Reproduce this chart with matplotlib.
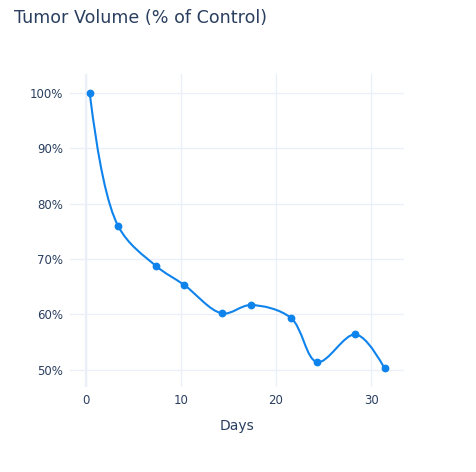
import matplotlib.pyplot as plt
from matplotlib.path import Path
from matplotlib.patches import PathPatch
from matplotlib.ticker import FuncFormatter
import numpy as np

# data
days = [0.42, 3.4, 7.36, 10.37, 14.33, 17.35, 21.55, 24.32, 28.35, 31.4]
volume_pct = [100.0, 76.0, 68.8, 65.3, 60.2, 61.7, 59.4, 51.4, 56.4, 50.3]
x_ticks = [0, 10, 20, 30]
y_ticks = [50, 60, 70, 80, 90, 100]

line_color = '#0f83ec'
text_color = '#2a3f5f'
grid_color = '#EBF0F8'

plt.rcParams['font.family'] = ['DejaVu Sans']


def make_tangent(prev, cur, nxt, smooth=1.0):
    # plotly-style catmull-rom tangent, in pixel space
    d1 = prev - cur
    d2 = nxt - cur
    d1a = np.hypot(*d1) ** 0.5
    d2a = np.hypot(*d2) ** 0.5
    num = (d2a * d2a * d1 - d1a * d1a * d2) * smooth
    den1 = 3 * d2a * (d1a + d2a)
    den2 = 3 * d1a * (d1a + d2a)
    return cur + num / den1, cur - num / den2


def spline_path(pts):
    tangents = [make_tangent(pts[i - 1], pts[i], pts[i + 1]) for i in range(1, len(pts) - 1)]
    verts = [pts[0]]
    codes = [Path.MOVETO]
    verts += [tangents[0][0], pts[1]]
    codes += [Path.CURVE3, Path.CURVE3]
    for i in range(2, len(pts) - 1):
        verts += [tangents[i - 2][1], tangents[i - 1][0], pts[i]]
        codes += [Path.CURVE4] * 3
    verts += [tangents[-1][1], pts[-1]]
    codes += [Path.CURVE3, Path.CURVE3]
    return np.array(verts), codes


fig = plt.figure(figsize=(4.76, 4.72), dpi=100)
ax = fig.add_axes([0.147, 0.180, 0.702, 0.663])
ax.set_xlim(-1.65, 33.46)
ax.set_ylim(46.9, 103.4)

for s in ax.spines.values():
    s.set_visible(False)
ax.set_xticks(x_ticks)
ax.set_yticks(y_ticks)
ax.yaxis.set_major_formatter(FuncFormatter(lambda v, p: f'{v:.0f}%'))
ax.tick_params(length=0, labelsize=8.5, colors=text_color, pad=5)
ax.grid(True, color=grid_color, linewidth=1)
ax.axvline(0, color=grid_color, linewidth=1.6, zorder=0.5)
ax.set_axisbelow(True)

# spline through the points (computed in pixel space like plotly)
pix = ax.transData.transform(np.column_stack([days, volume_pct]))
verts, codes = spline_path(pix)
verts_data = ax.transData.inverted().transform(verts)
ax.add_patch(PathPatch(Path(verts_data, codes), facecolor='none',
                       edgecolor=line_color, linewidth=1.5, zorder=3))
ax.plot(days, volume_pct, 'o', color=line_color, markersize=4.6, zorder=4)

ax.set_xlabel('Days', fontsize=10, color=text_color, labelpad=9)
fig.text(14 / 476, 1 - 18 / 472, 'Tumor Volume (% of Control)', fontsize=12.6,
         color=text_color, ha='left', va='center')

fig.savefig('out.png', dpi=100)
